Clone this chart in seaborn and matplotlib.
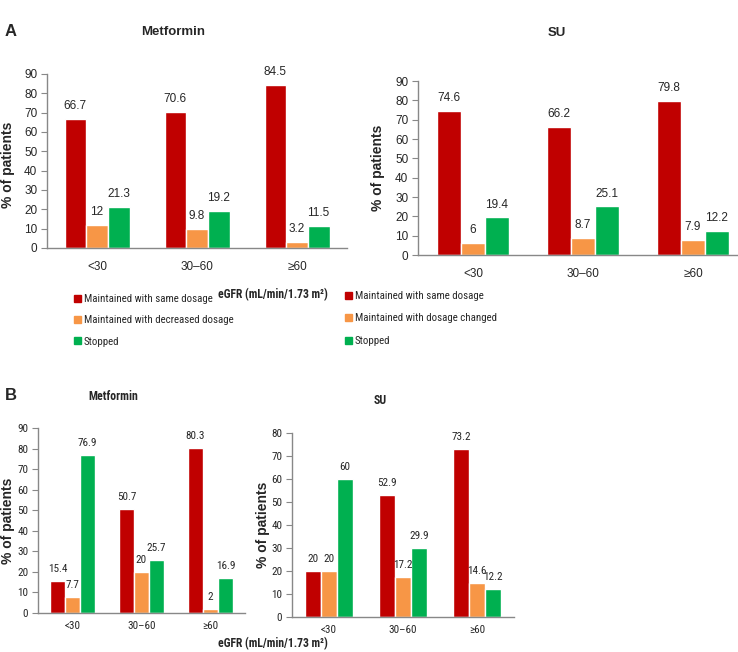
import numpy as np
import pandas as pd
import seaborn as sns
import matplotlib.pyplot as plt
from matplotlib.patches import Patch
from matplotlib import font_manager
from matplotlib.font_manager import FontProperties

sns.set_style('white')
plt.rcParams['font.family'] = ['Liberation Sans', 'DejaVu Sans']

# data
groups = ['<30', '30–60', '≥60']
status_a_met = ['Maintained with same dosage', 'Maintained with decreased dosage', 'Stopped']
status_a_su = ['Maintained with same dosage', 'Maintained with dosage changed', 'Stopped']

a_met_same = [66.7, 70.6, 84.5]
a_met_dec = [12, 9.8, 3.2]
a_met_stop = [21.3, 19.2, 11.5]

a_su_same = [74.6, 66.2, 79.8]
a_su_chg = [6, 8.7, 7.9]
a_su_stop = [19.4, 25.1, 12.2]

b_met_same = [15.4, 50.7, 80.3]
b_met_dec = [7.7, 20, 2]
b_met_stop = [76.9, 25.7, 16.9]

b_su_same = [20, 52.9, 73.2]
b_su_chg = [20, 17.2, 14.6]
b_su_stop = [60, 29.9, 12.2]

colors = ['#C00000', '#F79646', '#00B050']


# look for a narrow font (Arial Narrow look-alike), else fall back
def is_bold(w):
    if isinstance(w, str):
        return 'bold' in w or w in ('heavy', 'black')
    return w >= 600


def is_light(w):
    if isinstance(w, str):
        return 'light' in w or w == 'thin'
    return w < 400


def find_narrow(bold):
    fl = font_manager.fontManager.ttflist
    for key in ['Liberation Sans Narrow', 'Arial Narrow', 'Roboto Condensed', 'Open Sans Condensed']:
        for f in fl:
            if f.name == key and f.style == 'normal' and is_bold(f.weight) == bold \
                    and not is_light(f.weight):
                return f.fname
    for f in fl:
        if f.name == 'DejaVu Sans' and 'condensed' in str(f.stretch) and f.style == 'normal' \
                and is_bold(f.weight) == bold:
            return f.fname
    return None


nr_file = find_narrow(False)
nb_file = find_narrow(True)


def narrow(size, bold=False):
    fn = nb_file if bold else nr_file
    if fn:
        return FontProperties(fname=fn, size=size)
    return FontProperties(family='Liberation Sans', size=size * 0.88,
                          weight='bold' if bold else 'normal')


def regular(size, bold=False):
    return FontProperties(family='Liberation Sans', size=size,
                          weight='bold' if bold else 'normal')


W, H = 738, 652
fig = plt.figure(figsize=(W / 100, H / 100), dpi=100)


def px_axes(x0, x1, ytop, ybot):
    return fig.add_axes([x0 / W, 1 - ybot / H, (x1 - x0) / W, (ybot - ytop) / H])


def panel(ax, same, mid, stop, labels, ymax, fnt, fs, tpad, title, tx, ty):
    df = pd.DataFrame({
        'eGFR': groups * 3,
        'status': [labels[0]] * 3 + [labels[1]] * 3 + [labels[2]] * 3,
        'val': same + mid + stop,
    })
    sns.barplot(data=df, x='eGFR', y='val', hue='status', hue_order=labels,
                palette=colors, width=0.65, saturation=1, ax=ax, legend=False)
    for c in ax.containers:
        for t in ax.bar_label(c, fmt='{:g}', padding=5):
            t.set_fontproperties(fnt(fs))
    ax.set_xlim(-0.5, 2.5)
    ax.set_ylim(0, ymax)
    ax.set_yticks(np.arange(0, ymax + 1, 10))
    ax.set_xticks([-0.5, 0.5, 1.5, 2.5], minor=True)
    ax.tick_params(axis='x', which='major', length=0, pad=tpad)
    ax.tick_params(axis='x', which='minor', length=4, color='#888888', direction='out')
    ax.tick_params(axis='y', length=4, color='#888888', direction='out', left=True, pad=3)
    for lab in ax.get_xticklabels() + ax.get_yticklabels():
        lab.set_fontproperties(fnt(fs))
    ax.set_xlabel('')
    ax.set_ylabel('% of patients', fontproperties=regular(10, True))
    sns.despine(ax=ax)
    for s in ['left', 'bottom']:
        ax.spines[s].set_color('#888888')
        ax.spines[s].set_linewidth(1)
    fig.text(tx / W, 1 - ty / H, title, ha='center', va='center',
             fontproperties=fnt(8.6 if fnt is narrow else 9.5, True))


ax1 = px_axes(47, 347, 74, 248)
panel(ax1, a_met_same, a_met_dec, a_met_stop, status_a_met, 90, regular, 8.5, 9, 'Metformin', 173, 32)
ax1.yaxis.set_label_coords((15 - 47) / 300, 0.48)

ax2 = px_axes(418, 748, 81, 255)
panel(ax2, a_su_same, a_su_chg, a_su_stop, status_a_su, 90, regular, 8.5, 9, 'SU', 557, 33)
ax2.yaxis.set_label_coords((385 - 418) / 330, 0.5)

ax3 = px_axes(38, 245, 428, 613)
panel(ax3, b_met_same, b_met_dec, b_met_stop, status_a_met, 90, narrow, 8, 6, 'Metformin', 113, 396)
ax3.yaxis.set_label_coords((15 - 38) / 207, 0.5)

ax4 = px_axes(292, 514, 433, 617)
panel(ax4, b_su_same, b_su_chg, b_su_stop, status_a_su, 80, narrow, 8, 6, 'SU', 380, 400)
ax4.yaxis.set_label_coords((270 - 292) / 222, 0.5)

fig.text(5 / W, 1 - 32 / H, 'A', fontproperties=regular(12, True), va='center')
fig.text(5 / W, 1 - 396 / H, 'B', fontproperties=regular(12, True), va='center')

for yy in [295, 644]:
    fig.text(273 / W, 1 - yy / H, 'eGFR (mL/min/1.73 m²)', ha='center', va='center',
             fontproperties=narrow(8.4, True))

h_met = [Patch(color=c, label=l) for c, l in zip(colors, status_a_met)]
h_su = [Patch(color=c, label=l) for c, l in zip(colors, status_a_su)]
for hs, bx, by, sp in [(h_met, 74, 294, 1.05), (h_su, 345, 291, 1.15)]:
    fig.legend(handles=hs, loc='upper left', bbox_to_anchor=(bx / W, 1 - by / H),
               frameon=False, handlelength=0.6, handleheight=0.6, handletextpad=0.3,
               labelspacing=sp, borderaxespad=0, borderpad=0,
               prop=narrow(7.8))

fig.savefig('out.png', dpi=100)
